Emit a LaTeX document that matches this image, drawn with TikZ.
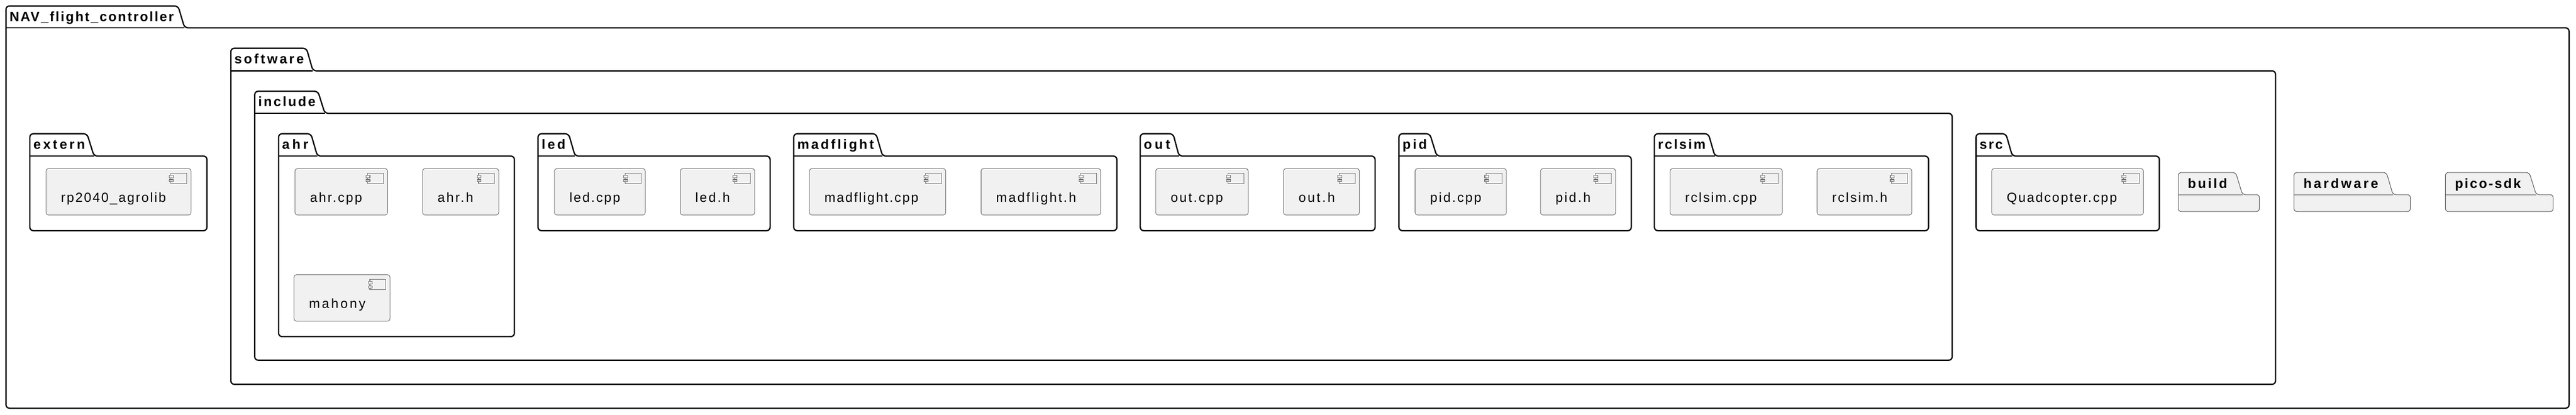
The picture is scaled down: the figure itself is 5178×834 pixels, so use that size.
\documentclass[tikz,border=0pt]{standalone}
\usepackage{fontspec}
\setmainfont{Liberation Sans}
\newfontfamily\pkgfont{Liberation Sans}
\newfontfamily\compfont{Liberation Sans}
\definecolor{boxfill}{HTML}{F1F1F1}
\definecolor{boxline}{HTML}{6E6E6E}
% letter spacing differs from one label to the next
\newcommand{\spaced}[2]{\edef\lsval{#1}\expandafter\addfontfeature\expandafter{\expandafter L\expandafter e\expandafter t\expandafter t\expandafter e\expandafter r\expandafter S\expandafter p\expandafter a\expandafter c\expandafter e\expandafter =\lsval}#2}
\tikzset{
	pkgline/.style={line width=2.6pt,draw=black,fill=white,rounded corners=7pt},
	emptyline/.style={line width=1.1pt,draw=boxline!70!black,fill=boxfill,rounded corners=6pt},
	compbox/.style={draw=boxline,line width=1.1pt,fill=boxfill,rounded corners=5pt,inner sep=0,minimum height=93.5pt},
	iconline/.style={draw=boxline,line width=1.1pt,fill=boxfill},
	pkglabel/.style={anchor=base west,inner sep=0,font=\pkgfont\bfseries\fontsize{27}{27}\selectfont},
	complabel/.style={anchor=base west,inner sep=0,font=\compfont\fontsize{26.5}{26.5}\selectfont}
}
\begin{document}
\begin{tikzpicture}[x=1pt,y=-1pt]
	\useasboundingbox (0,0) rectangle (5178,834);
	\foreach \n/\t/\s/\xl/\xa/\xb/\xr/\ya/\yb/\yc in {
		nav/NAV\_flight\_controller/10.1/12/358/371/5164/12/56/821,
		extern/extern/16.9/60/175/189/416/269/314/464,
		software/software/15.1/464/616/629/4574/97/142.5/773,
		include/include/12.7/512/639/653/3924/183.5/228/724.5,
		ahr/ahr/19.8/560/625/638/1034/269/314/677,
		led/led/16.7/1081.5/1143/1156/1548/269/314/464,
		madflight/madflight/15/1595.5/1761/1774/2245/269/314/464,
		out/out/20.4/2292/2358/2370/2764/269/314/464,
		pid/pid/15.7/2812/2874/2888/3279/269/314/464,
		rclsim/rclsim/12/3325.5/3434/3447/3876.5/269/314/464,
		src/src/11.3/3972/4032/4045/4340.5/269/314/464}
	{
		\draw[pkgline] (\xl,\yb) -- (\xl,\ya) -- (\xa,\ya) -- (\xb,\yb) [sharp corners] -- ({\xr-20},\yb) [rounded corners=7pt] -- (\xr,\yb) -- (\xr,\yc) -- (\xl,\yc) -- cycle;
		\draw[line width=2.6pt] (\xl,\yb) -- (\xb,\yb);
		\node[pkglabel] (lab\n) at ({\xl+7},{\ya+30.5}) {\spaced{\s}{\t}};
	}
	\foreach \n/\s/\xl/\xa/\xb/\xr in {
		build/13.7/4378.5/4494/4507.5/4541.5,
		hardware/16/4611/4797/4810/4845,
		pico-sdk/11.4/4915.5/5084/5098/5132}
	{
		\draw[emptyline] (\xl,391.5) -- (\xl,347) -- (\xa,347) -- (\xb,391.5) [sharp corners] -- ({\xr-20},391.5) [rounded corners=6pt] -- (\xr,391.5) -- (\xr,425.5) -- (\xl,425.5) -- cycle;
		\draw[line width=1.1pt,draw=boxline!70!black] (\xl,391.5) -- (\xb,391.5);
		\node[pkglabel] (lab\n) at ({\xl+19},379) {\spaced{\s}{\n}};
	}
	\foreach \n/\t/\s/\xa/\xb/\ya in {
		rplib/rp2040\_agrolib/9.9/92.5/384/339,
		ahrcpp/ahr.cpp/11.1/593/779/339,
		ahrh/ahr.h/11.9/849.5/1002.5/339,
		mahony/mahony/14.6/591/784/552.5,
		ledcpp/led.cpp/10.4/1114.5/1297/339,
		ledh/led.h/11.4/1367.5/1517/339,
		madcpp/madflight.cpp/9.8/1627/1901/339,
		madh/madflight.h/11.8/1972/2212.5/339,
		outcpp/out.cpp/11.4/2323/2509/339,
		outh/out.h/13.3/2580/2732.5/339,
		pidcpp/pid.cpp/11.1/2844.5/3028/339,
		pidh/pid.h/12.3/3096.5/3247.5/339,
		rclcpp/rclsim.cpp/10.4/3357/3582.5/339,
		rclh/rclsim.h/10.6/3652.5/3843/339,
		quad/Quadcopter.cpp/10/4003.5/4308.5/339}
	{
		\node[compbox,minimum width={(\xb-\xa)*1pt}] (\n) at ({(\xa+\xb)/2},{\ya+46.75}) {};
		\node[complabel] (lab\n) at ({\xa+30},{\ya+67}) {\spaced{\s}{\t}};
		\draw[iconline] ([shift={(-41,10)}]\n.north east) rectangle ([shift={(-9,31)}]\n.north east);
		\draw[iconline] ([shift={(-44,14)}]\n.north east) rectangle ([shift={(-36,19)}]\n.north east);
		\draw[iconline] ([shift={(-44,23)}]\n.north east) rectangle ([shift={(-36,27)}]\n.north east);
	}
\end{tikzpicture}
\end{document}
